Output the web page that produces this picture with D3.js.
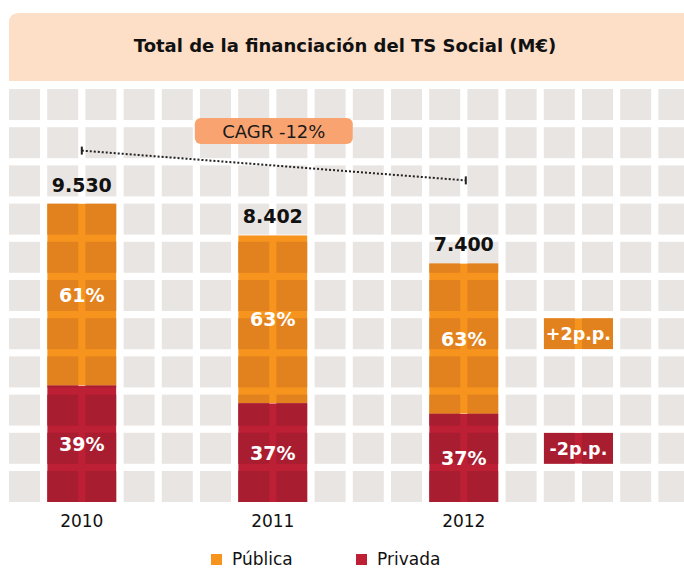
<!DOCTYPE html>
<html>
<head>
<meta charset="utf-8">
<script src="https://cdn.jsdelivr.net/npm/d3@7"></script>
<style>
  html, body { margin: 0; padding: 0; background: #fff; }
  svg { display: block; }
  text { font-family: "DejaVu Sans", sans-serif; }
</style>
</head>
<body>
<div id="chart"></div>
<script>
// Data
const years = ['2010', '2011', '2012'];
const totals = [9530, 8402, 7400];
const publicShare = [61, 63, 63];
const privateShare = [39, 37, 37];
const seriesNames = ['Pública', 'Privada'];
const title = 'Total de la financiación del TS Social (M€)';

const W = 684, H = 569;
const colors = {
    grid: '#e9e5e2',
    title: '#fddec7',
    pubDark: '#e2821e', pubLight: '#f7941e',
    privDark: '#a81d30', privLight: '#bd1f35',
    cagr: '#f9a470'
};

// Grid layout (background tiles)
const x0 = 9, y0 = 89, pitch = 38.2, cell = 31;
const nCols = 18, nRows = 11;
const colX = i => x0 + i * pitch;
const rowY = i => y0 + i * pitch;
const baseY = rowY(nRows - 1) + cell;

const es = d3.formatLocale({ decimal: ',', thousands: '.', grouping: [3], currency: ['', '€'] });
const fmt = es.format(',d');

const svg = d3.select('#chart').append('svg')
    .attr('width', W).attr('height', H);

// Title band
svg.append('path')
    .attr('d', `M9,81 V23 Q9,13 19,13 H${W} V81 Z`)
    .attr('fill', colors.title);
svg.append('text')
    .attr('x', 345).attr('y', 52)
    .attr('text-anchor', 'middle')
    .attr('font-weight', 'bold')
    .attr('font-size', 18)
    .attr('fill', '#111')
    .text(title);

const cells = [];
for (let r = 0; r < nRows; r++)
    for (let c = 0; c < nCols; c++) cells.push({ x: colX(c), y: rowY(r) });

function drawGrid(g, fill) {
    g.selectAll('rect.cell')
        .data(cells)
        .join('rect')
        .attr('class', 'cell')
        .attr('x', d => d.x).attr('y', d => d.y)
        .attr('width', cell).attr('height', cell)
        .attr('fill', fill);
}

drawGrid(svg.append('g'), colors.grid);

// Scales
const barW = pitch + cell;
const x = d3.scalePoint()
    .domain(years)
    .range([colX(1) + barW / 2, colX(11) + barW / 2]);
const y = d3.scaleLinear()
    .domain([-1100, d3.max(totals)])
    .range([baseY, rowY(3)]);

// Tiled block: light base, darker tiles clipped inside
let clipId = 0;
function tiledRect(bx, by, bw, bh, light, dark) {
    const id = 'clip' + (clipId++);
    svg.append('clipPath').attr('id', id)
        .append('rect').attr('x', bx).attr('y', by).attr('width', bw).attr('height', bh);
    const g = svg.append('g').attr('clip-path', `url(#${id})`);
    g.append('rect').attr('x', bx).attr('y', by).attr('width', bw).attr('height', bh).attr('fill', light);
    drawGrid(g, dark);
}

const bars = years.map((yr, i) => {
    const top = y(totals[i]);
    const h = baseY - top;
    const split = baseY - h * privateShare[i] / 100;
    return { yr, i, top, split, cx: x(yr) };
});

bars.forEach(b => {
    tiledRect(b.cx - barW / 2, b.top, barW, b.split - b.top, colors.pubLight, colors.pubDark);
    tiledRect(b.cx - barW / 2, b.split, barW, baseY - b.split, colors.privLight, colors.privDark);
});

// Totals above bars
svg.selectAll('text.total')
    .data(bars)
    .join('text')
    .attr('class', 'total')
    .attr('x', d => d.cx).attr('y', d => d.top - 12)
    .attr('text-anchor', 'middle')
    .attr('font-weight', 'bold').attr('font-size', 19)
    .attr('fill', '#111')
    .text(d => fmt(totals[d.i]));

// Percentage labels
const pctLabels = [];
bars.forEach(b => {
    pctLabels.push({ x: b.cx, y: (b.top + b.split) / 2, t: publicShare[b.i] + '%' });
    pctLabels.push({ x: b.cx, y: (b.split + baseY) / 2, t: privateShare[b.i] + '%' });
});
svg.selectAll('text.pct')
    .data(pctLabels)
    .join('text')
    .attr('class', 'pct')
    .attr('x', d => d.x).attr('y', d => d.y + 7)
    .attr('text-anchor', 'middle')
    .attr('font-weight', 'bold').attr('font-size', 19)
    .attr('fill', '#fff')
    .text(d => d.t);

// Change in share boxes, snapped to the nearest grid row
const last = bars[bars.length - 1];
const deltaPub = publicShare[2] - publicShare[0];
const deltaPriv = privateShare[2] - privateShare[0];
const nearestRow = cy => Math.round((cy - y0 - cell / 2) / pitch);
const deltas = [
    { v: deltaPub, cy: (last.top + last.split) / 2, light: colors.pubLight, dark: colors.pubDark },
    { v: deltaPriv, cy: (last.split + baseY) / 2, light: colors.privLight, dark: colors.privDark }
];
deltas.forEach(d => {
    const ry = rowY(nearestRow(d.cy));
    const bx = colX(14);
    tiledRect(bx, ry, barW, cell, d.light, d.dark);
    svg.append('text')
        .attr('x', bx + barW / 2).attr('y', ry + cell / 2 + 6.5)
        .attr('text-anchor', 'middle')
        .attr('font-weight', 'bold').attr('font-size', 17.5)
        .attr('fill', '#fff')
        .text((d.v > 0 ? '+' : '') + d.v + 'p.p.');
});

// CAGR annotation
const cagr = Math.pow(totals[2] / totals[0], 1 / (totals.length - 1)) - 1;
const lx1 = bars[0].cx, lx2 = last.cx + 2;
const ly1 = bars[0].top - 53, ly2 = last.top - 83;
svg.append('line')
    .attr('x1', lx1).attr('y1', ly1).attr('x2', lx2).attr('y2', ly2)
    .attr('stroke', '#222').attr('stroke-width', 2)
    .attr('stroke-dasharray', '2,2');
[[lx1, ly1], [lx2, ly2]].forEach(([px, py]) => {
    svg.append('line')
        .attr('x1', px).attr('x2', px).attr('y1', py - 4).attr('y2', py + 4)
        .attr('stroke', '#222').attr('stroke-width', 2);
});
const midX = (lx1 + lx2) / 2;
svg.append('rect')
    .attr('x', midX - 79).attr('y', 118)
    .attr('width', 158).attr('height', 26)
    .attr('rx', 6)
    .attr('fill', colors.cagr);
svg.append('text')
    .attr('x', midX).attr('y', 138)
    .attr('text-anchor', 'middle')
    .attr('font-size', 18)
    .attr('fill', '#1a1a1a')
    .text('CAGR ' + Math.round(cagr * 100) + '%');

// Year axis labels
svg.selectAll('text.year')
    .data(years)
    .join('text')
    .attr('class', 'year')
    .attr('x', d => x(d)).attr('y', 527)
    .attr('text-anchor', 'middle')
    .attr('font-size', 17)
    .attr('fill', '#111')
    .text(d => d);

// Legend
const legend = svg.append('g');
const legendX = [211, 356];
const legendColors = [colors.pubLight, colors.privLight];
seriesNames.forEach((name, i) => {
    legend.append('rect')
        .attr('x', legendX[i]).attr('y', 554)
        .attr('width', 11).attr('height', 11)
        .attr('fill', legendColors[i]);
    legend.append('text')
        .attr('x', legendX[i] + 21).attr('y', 565)
        .attr('font-size', 17)
        .attr('fill', '#111')
        .text(name);
});
</script>
</body>
</html>
